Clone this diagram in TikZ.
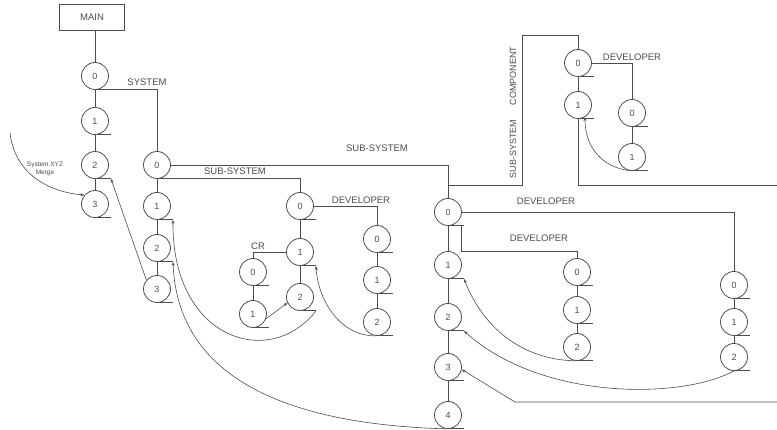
\documentclass[tikz,border=0pt]{standalone}
\usepackage{fontspec}
\setmainfont{Liberation Sans}
\usetikzlibrary{arrows.meta}
\definecolor{ink}{gray}{0.3}
\tikzset{
  ver/.style={circle, draw=ink, line width=0.8pt, minimum size=27pt, inner sep=0pt, text=ink, font=\fontsize{9}{10}\selectfont},
  lbl/.style={text=ink, inner sep=0pt, font=\fontsize{9.5}{11}\selectfont},
  link/.style={draw=ink, line width=0.8pt},
  merge/.style={draw=ink, line width=0.6pt, -{Stealth[length=4pt, width=3pt]}},
}

\begin{document}
\begin{tikzpicture}[x=1pt, y=-1pt]
    \useasboundingbox (0,0) rectangle (777,430);

    \node[lbl, draw=ink, line width=0.8pt, minimum width=65pt, minimum height=26pt] (main) at (92,17) {MAIN};

    % main line
    \node[ver] (m0) at (95,76) {0};
    \node[ver] (m1) at (95,121) {1};
    \node[ver] (m2) at (95,165) {2};
    \node[ver] (m3) at (95,204) {3};

    % system
    \node[ver] (s0) at (157,165) {0};
    \node[ver] (s1) at (157,206) {1};
    \node[ver] (s2) at (157,248) {2};
    \node[ver] (s3) at (157,289) {3};

    % sub-system (left)
    \node[ver] (a0) at (300,206) {0};
    \node[ver] (a1) at (300,252) {1};
    \node[ver] (a2) at (300,297) {2};
    \node[ver] (ad0) at (377,239) {0};
    \node[ver] (ad1) at (377,280) {1};
    \node[ver] (ad2) at (377,322) {2};
    \node[ver] (cr0) at (253,272) {0};
    \node[ver] (cr1) at (253,314) {1};

    % sub-system (right)
    \node[ver] (b0) at (448,212) {0};
    \node[ver] (b1) at (448,265) {1};
    \node[ver] (b2) at (448,317) {2};
    \node[ver] (b3) at (448,367) {3};
    \node[ver] (b4) at (448,415) {4};
    \node[ver] (bd0) at (577,272) {0};
    \node[ver] (bd1) at (577,310) {1};
    \node[ver] (bd2) at (577,347) {2};
    \node[ver] (be0) at (734,285) {0};
    \node[ver] (be1) at (734,322) {1};
    \node[ver] (be2) at (734,357) {2};

    % sub-system component
    \node[ver] (c0) at (578,63) {0};
    \node[ver] (c1) at (578,105) {1};
    \node[ver] (cd0) at (632,113) {0};
    \node[ver] (cd1) at (632,157) {1};

    % labels
    \node[lbl] (sys) at (147,82) {SYSTEM};
    \node[lbl] (ssup) at (377,148) {SUB-SYSTEM};
    \node[lbl] (ssmid) at (235,171) {SUB-SYSTEM};
    \node[lbl] (deva) at (361,200) {DEVELOPER};
    \node[lbl] (cr) at (258,246) {CR};
    \node[lbl] (devb) at (546,201) {DEVELOPER};
    \node[lbl] (devbb) at (539,238) {DEVELOPER};
    \node[lbl] (devc) at (632,57) {DEVELOPER};
    \node[lbl, rotate=90, font=\fontsize{9}{10}\selectfont] (sscomp) at (513,149) {SUB-SYSTEM};
    \node[lbl, rotate=90, font=\fontsize{9}{10}\selectfont] (comp) at (513,76) {COMPONENT};
    \node[lbl, align=center, font=\fontsize{6.5}{7.5}\selectfont] (xyzlbl) at (45,169) {System XYZ\\Merge};

    % ticks under the versions
    \foreach \n in {m0,m1,m2,m3,s0,s1,s2,s3,a0,a1,a2,ad0,ad1,ad2,cr0,cr1,b0,b1,b2,b3,b4,bd0,bd1,bd2,be0,be1,be2,c0,c1,cd0,cd1}
        \draw[link] (\n.south) ++(2,0) -- ++(14,0) coordinate (\n-t);

    % lines of versions
    \draw[link] (main.south -| m0.north) -- (m0.north);
    \draw[link] (m0) -- (m1) -- (m2) -- (m3);
    \draw[link] (s0) -- (s1) -- (s2) -- (s3);
    \draw[link] (a0) -- (a1) -- (a2);
    \draw[link] (ad0) -- (ad1) -- (ad2);
    \draw[link] (cr0) -- (cr1);
    \draw[link] (b0) -- (b1) -- (b2) -- (b3) -- (b4);
    \draw[link] (bd0) -- (bd1) -- (bd2);
    \draw[link] (be0) -- (be1) -- (be2);
    \draw[link] (c0) -- (c1);
    \draw[link] (cd0) -- (cd1);

    % branches
    \coordinate (cb) at (448,185);
    \coordinate (ctop) at (522,35);
    \coordinate (cout) at (777,185);
    \draw[link] (m0.south) -| (s0.north);
    \draw[link] (s0.east) -| (b0.north);
    \draw[link] (s0.south) -| (a0.north);
    \draw[link] (a0.east) -| (ad0.north);
    \draw[link] (a1.west) -| (cr0.north);
    \draw[link] (b0.east) -| (be0.north);
    \draw[link] (b0.south) -- ++(13,0) -- ++(0,26) -| (bd0.north);
    \draw[link] (cb) -| (ctop) -| (c0.north);
    \draw[link] (c0.east) -| (cd0.north);
    \draw[link] (c1) |- (cout);

    % merges
    \coordinate (xyz) at (10,133);
    \coordinate (bin) at (777,402);
    \draw[merge] (xyz) .. controls (15,175) and (50,192) .. (m3.140);
    \draw[merge] (s3.140) -- (m2-t);
    \draw[merge] (a2-t) .. controls (270,370) and (172,340) .. (s1-t);
    \draw[merge] (cr1.-20) -- (a2.205);
    \draw[merge] (ad2.south) .. controls (340,337) and (318,300) .. (a1-t);
    \draw[merge] (b4.south) .. controls (300,425) and (178,385) .. (s2-t);
    \draw[merge] (bd2.south) .. controls (515,360) and (480,320) .. (b1-t);
    \draw[merge] (be2.south) .. controls (680,400) and (540,400) .. (b2-t);
    \draw[merge] (bin) -- ++(-262,0) -- (b3.-10);
    \draw[merge] (cd1.south) .. controls (600,168) and (585,145) .. (c1.-60);
\end{tikzpicture}
\end{document}
